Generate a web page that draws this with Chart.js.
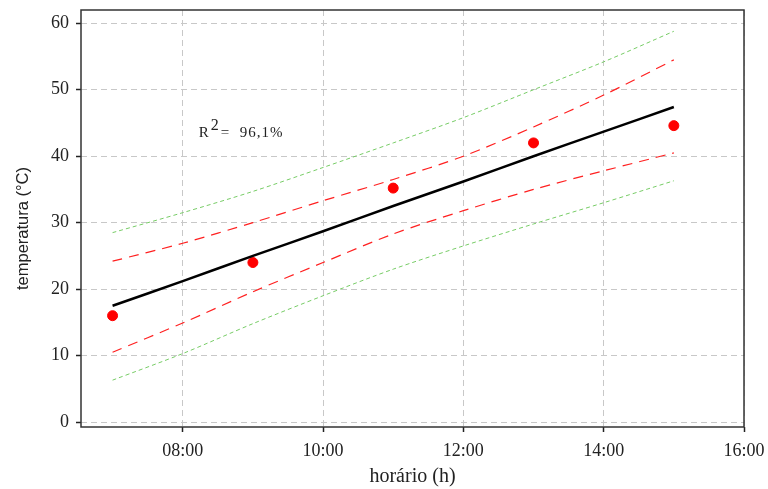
<!DOCTYPE html>
<html>
<head>
<meta charset="utf-8">
<script src="https://cdn.jsdelivr.net/npm/chart.js@4"></script>
<style>
  html, body { margin: 0; padding: 0; background: #fff; }
  #wrap { width: 768px; height: 489px; }
</style>
</head>
<body>
<div id="wrap"><canvas id="temp-chart"></canvas></div>
<script>
// hours of the day
const hours = [7, 8, 9, 10, 11, 12, 13, 14, 15];
const obsHours = [7, 9, 11, 13, 15];
const observed = [16, 24, 35.2, 42, 44.6];
const fitted = [17.5, 21.2, 25, 28.7, 32.5, 36.2, 40, 43.7, 47.4];
const confUpper = [24.2, 26.9, 30, 33.3, 36.5, 40, 44.4, 49.2, 54.5];
const confLower = [10.5, 14.9, 19.6, 24, 28.3, 31.8, 35, 37.8, 40.5];
const predUpper = [28.5, 31.5, 34.7, 38.3, 42, 45.8, 50, 54.2, 58.8];
const predLower = [6.3, 10.3, 14.8, 19, 23, 26.5, 29.8, 33, 36.3];
const xTicks = [8, 10, 12, 14, 16];
const yTicks = [0, 10, 20, 30, 40, 50, 60];
const r2Text = "96,1%";
const yTitle = "temperatura (°C)";

const pts = (xs, ys) => xs.map((x, i) => ({ x: x, y: ys[i] }));
const serif = "'Liberation Serif', 'Times New Roman', serif";
const sans = "'Liberation Sans', Arial, sans-serif";

const boxPlugin = {
	id: "box",
	afterDatasetsDraw(chart) {
		const a = chart.chartArea;
		const ctx = chart.ctx;
		ctx.save();
		ctx.strokeStyle = "#333";
		ctx.lineWidth = 1.5;
		ctx.strokeRect(a.left, a.top, a.right - a.left, a.bottom - a.top);
		// R² label
		const x = chart.scales.x.getPixelForValue(8.23);
		const y = chart.scales.y.getPixelForValue(42.9);
		ctx.fillStyle = "#222";
		ctx.textBaseline = "alphabetic";
		ctx.font = "15px " + serif;
		ctx.fillText("R", x, y);
		ctx.font = "16px " + serif;
		ctx.fillText("2", x + 12, y - 7);
		ctx.font = "15px " + serif;
		ctx.fillText("=", x + 22, y);
		ctx.letterSpacing = "1px";
		ctx.fillText(r2Text, x + 41, y);
		ctx.letterSpacing = "0px";
		// y title
		ctx.translate(23, (a.top + a.bottom) / 2 + 10);
		ctx.rotate(-Math.PI / 2);
		ctx.textAlign = "center";
		ctx.textBaseline = "middle";
		ctx.font = "16.5px " + sans;
		ctx.fillText(yTitle, 0, 0);
		ctx.restore();
	}
};

const lineStyle = (color, width, dash) => ({
	type: "line",
	borderColor: color,
	borderWidth: width,
	borderDash: dash,
	pointRadius: 0,
	fill: false,
	tension: 0.3
});

const data = {
	datasets: [
		Object.assign({ data: pts(hours, predUpper) }, lineStyle("#77cc66", 1, [4, 3])),
		Object.assign({ data: pts(hours, predLower) }, lineStyle("#77cc66", 1, [4, 3])),
		Object.assign({ data: pts(hours, confUpper) }, lineStyle("#ff2020", 1.2, [10, 7])),
		Object.assign({ data: pts(hours, confLower) }, lineStyle("#ff2020", 1.2, [10, 7])),
		Object.assign({ data: pts(hours, fitted) }, lineStyle("#000", 2.5, [])),
		{
			type: "scatter",
			data: pts(obsHours, observed),
			backgroundColor: "#ff0000",
			borderColor: "#ff0000",
			pointRadius: 5,
			pointHoverRadius: 5
		}
	]
};

const options = {
	responsive: true,
	maintainAspectRatio: false,
	animation: false,
	layout: { padding: { top: 10, right: 24, left: 0, bottom: 0 } },
	plugins: { legend: { display: false }, tooltip: { enabled: false } },
	scales: {
		x: {
			type: "linear",
			min: 6.55,
			max: 16,
			afterBuildTicks: s => { s.ticks = xTicks.map(v => ({ value: v })); },
			afterFit: s => {
				s.height = 62;
				s.paddingLeft = 0;
				s.paddingRight = 0;
			},
			ticks: {
				color: "#222",
				padding: 8,
				font: { family: serif, size: 18 },
				callback: v => String(v).padStart(2, "0") + ":00"
			},
			grid: {
				color: "#c8c8c8",
				lineWidth: 1,
				tickColor: "#222",
				tickLength: 5,
				tickBorderDash: [],
				tickWidth: 1.5
			},
			border: { display: false, dash: [6, 4] },
			title: {
				display: true,
				text: "horário (h)",
				color: "#222",
				font: { family: serif, size: 20 },
				padding: { top: 0, bottom: 0 }
			}
		},
		y: {
			type: "linear",
			min: -0.75,
			max: 62,
			afterBuildTicks: s => { s.ticks = yTicks.map(v => ({ value: v })); },
			afterFit: s => {
				s.width = 81;
				s.paddingTop = 0;
				s.paddingBottom = 0;
			},
			ticks: {
				color: "#222",
				padding: 7,
				font: { family: serif, size: 18 }
			},
			grid: {
				color: "#c8c8c8",
				lineWidth: 1,
				tickColor: "#222",
				tickLength: 5,
				tickBorderDash: [],
				tickWidth: 1.5
			},
			border: { display: false, dash: [6, 4] },
			title: { display: false }
		}
	}
};

const ctx = document.getElementById("temp-chart").getContext("2d");
const chart = new Chart(ctx, {
	type: "line",
	data: data,
	options: options,
	plugins: [boxPlugin]
});
</script>
</body>
</html>
